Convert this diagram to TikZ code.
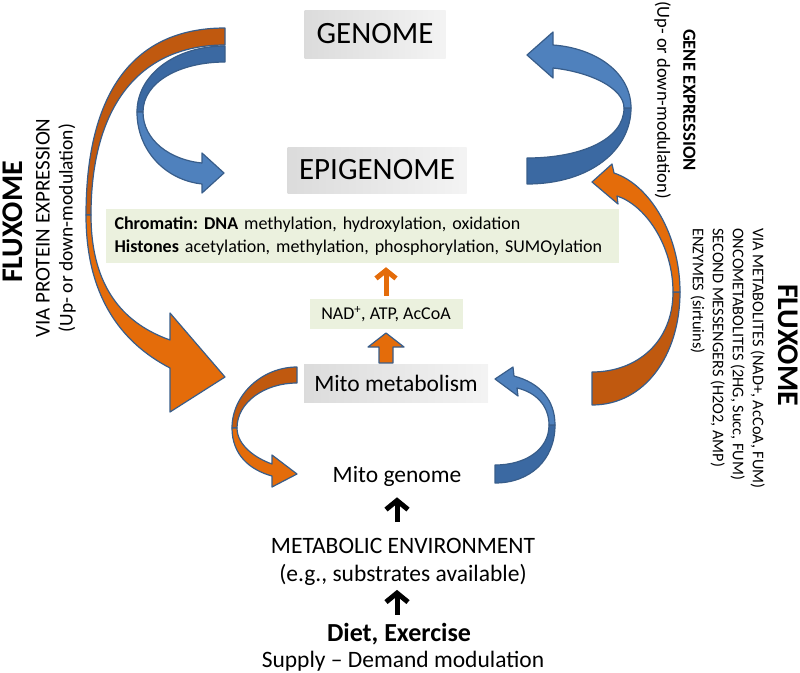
\documentclass[tikz,border=0pt]{standalone}
\usepackage{fontspec}
\setmainfont{Carlito}
\usetikzlibrary{arrows.meta}
\definecolor{arrowblue}{HTML}{4F81BD}
\definecolor{backblue}{HTML}{3B69A2}
\definecolor{edgeblue}{HTML}{385D8A}
\definecolor{arroworange}{HTML}{E46C0A}
\definecolor{backorange}{HTML}{C0590F}
\definecolor{boxgreen}{HTML}{EBF1DE}
\frenchspacing

\begin{document}
\begin{tikzpicture}[x=1pt,y=-1pt,
  bandedge/.style={draw=edgeblue,line width=1.2pt,line join=round},
  frontblue/.style={bandedge,fill=arrowblue},
  rearblue/.style={bandedge,fill=backblue},
  frontorange/.style={bandedge,fill=arroworange},
  rearorange/.style={bandedge,fill=backorange},
  graybox/.style={left color=gray!28,right color=gray!9,inner sep=0pt},
  greenbox/.style={fill=boxgreen,inner sep=0pt},
  upblack/.style={line width=5pt,-{Straight Barb[length=9pt,width=22pt]}},
  uporange/.style={draw=arroworange,line width=5pt,-{Straight Barb[length=8pt,width=20pt]}}]
  \useasboundingbox (0,0) rectangle (800,672);
  % Curved arrows first
  \draw[rearorange] (225,28) .. controls (128,28) and (86,100) .. (86,215)
    -- (91,215) .. controls (91,108) and (138,45) .. (225,45) -- cycle;
  \draw[frontorange] (86,215) .. controls (86,295) and (120,342) .. (170,368)
    -- (170,412) -- (225,377) -- (170,313) -- (170,340)
    .. controls (128,325) and (91,292) .. (91,215) -- cycle;
  \draw[rearblue] (225,46) .. controls (175,46) and (137,75) .. (137,112)
    -- (143,112) .. controls (143,82) and (180,62) .. (225,62) -- cycle;
  \draw[frontblue] (137,112) .. controls (137,150) and (165,180) .. (202,184)
    -- (202,193) -- (224,173) -- (202,153) -- (202,163)
    .. controls (170,160) and (143,140) .. (143,112) -- cycle;
  \draw[rearblue] (527,184) .. controls (590,184) and (631,150) .. (631,108)
    -- (624,108) .. controls (624,140) and (580,158) .. (527,158) -- cycle;
  \draw[frontblue] (631,108) .. controls (631,72) and (595,48) .. (553,45)
    -- (553,32) -- (527,55) -- (553,78) -- (553,68)
    .. controls (590,72) and (624,88) .. (624,108) -- cycle;
  \draw[rearorange] (592,405) .. controls (645,405) and (680,355) .. (680,292)
    -- (673,292) .. controls (673,342) and (637,372) .. (592,372) -- cycle;
  \draw[frontorange] (680,292) .. controls (680,235) and (650,185) .. (614,173)
    -- (612,164) -- (592,182) -- (618,204) -- (617,196)
    .. controls (645,205) and (673,245) .. (673,292) -- cycle;
  \draw[rearorange] (297,367) .. controls (262,367) and (232,395) .. (232,428)
    -- (237,428) .. controls (237,402) and (265,383) .. (297,383) -- cycle;
  \draw[frontorange] (232,428) .. controls (232,455) and (250,470) .. (272,476)
    -- (272,487) -- (297,474) -- (272,455) -- (272,464)
    .. controls (255,458) and (237,445) .. (237,428) -- cycle;
  \draw[rearblue] (495,483) .. controls (530,483) and (555,460) .. (555,425)
    -- (549,425) .. controls (549,450) and (525,465) .. (495,465) -- cycle;
  \draw[frontblue] (555,425) .. controls (555,400) and (540,383) .. (514,376)
    -- (513,367) -- (495,379) -- (518,396) -- (517,388)
    .. controls (535,392) and (549,405) .. (549,425) -- cycle;
  \draw[frontorange] (379,363) -- (379,347) -- (368,347) -- (386,333)
    -- (404,347) -- (393,347) -- (393,363) -- cycle;
  % Boxes and labels
  \node[graybox,minimum width=141pt,minimum height=48pt,font=\fontsize{31}{37}\selectfont] (genome) at (375,34) {GENOME};
  \node[graybox,minimum width=179pt,minimum height=46pt,font=\fontsize{31}{37}\selectfont] (epigenome) at (377,170) {EPIGENOME};
  \node[greenbox,minimum width=513pt,minimum height=54pt,text width=495pt,align=left,font=\fontsize{18}{23}\selectfont] (chromatin) at (362,236)
    {\textbf{Chromatin: DNA} methylation, hydroxylation, oxidation\\\textbf{Histones} acetylation, methylation, phosphorylation, SUMOylation};
  \node[greenbox,minimum width=153pt,minimum height=30pt,font=\fontsize{18}{20}\selectfont] (nad) at (386,314) {NAD\textsuperscript{+}, ATP, AcCoA};
  \node[graybox,minimum width=184pt,minimum height=38pt,font=\fontsize{23.5}{26}\selectfont] (mitomet) at (396,383) {Mito metabolism};
  \node[inner sep=0pt,font=\fontsize{23.5}{26}\selectfont] (mitogen) at (397,476) {Mito genome};
  \node[inner sep=0pt,align=center,font=\fontsize{23.5}{28}\selectfont] (metenv) at (403,562) {METABOLIC ENVIRONMENT\\(e.g., substrates available)};
  \node[inner sep=0pt,font=\bfseries\fontsize{26}{28}\selectfont] (diet) at (399,634) {Diet, Exercise};
  \node[inner sep=0pt,font=\fontsize{23.5}{26}\selectfont] (supply) at (403,661) {Supply – Demand modulation};
  \node[rotate=90,font=\bfseries\fontsize{30}{36}\selectfont] (fluxleft) at (13,222) {FLUXOME};
  \node[rotate=90,align=center,font=\fontsize{21}{23}\selectfont] (protein) at (56,228)
    {VIA PROTEIN EXPRESSION\\{\fontsize{19.5}{23}\selectfont(Up- or down-modulation)}};
  \node[rotate=-90,align=center,font=\fontsize{18.5}{26}\selectfont] (geneexp) at (675,100) {\textbf{GENE EXPRESSION}\\(Up- or down-modulation)};
  \node[rotate=-90,font=\bfseries\fontsize{30}{36}\selectfont] (fluxright) at (788,345) {FLUXOME};
  \node[rotate=-90,anchor=north west,inner sep=0pt,align=left,font=\fontsize{16.3}{20}\selectfont] (metabolites) at (765,228)
    {VIA METABOLITES (NAD+, AcCoA, FUM)\\ONCOMETABOLITES (2HG, Succ, FUM)\\SECOND MESSENGERS (H2O2, AMP)\\ENZYMES (sirtuins)};
  % Straight arrows
  \draw[uporange,shorten <=3pt,shorten >=4pt] (nad.north) -- (nad.north |- chromatin.south);
  \draw[upblack,shorten <=16pt,shorten >=11pt] (metenv.north -| mitogen.south) -- (mitogen.south);
  \draw[upblack,shorten <=8pt,shorten >=4pt] (diet.north -| mitogen.south) -- (metenv.south -| mitogen.south);
\end{tikzpicture}
\end{document}
